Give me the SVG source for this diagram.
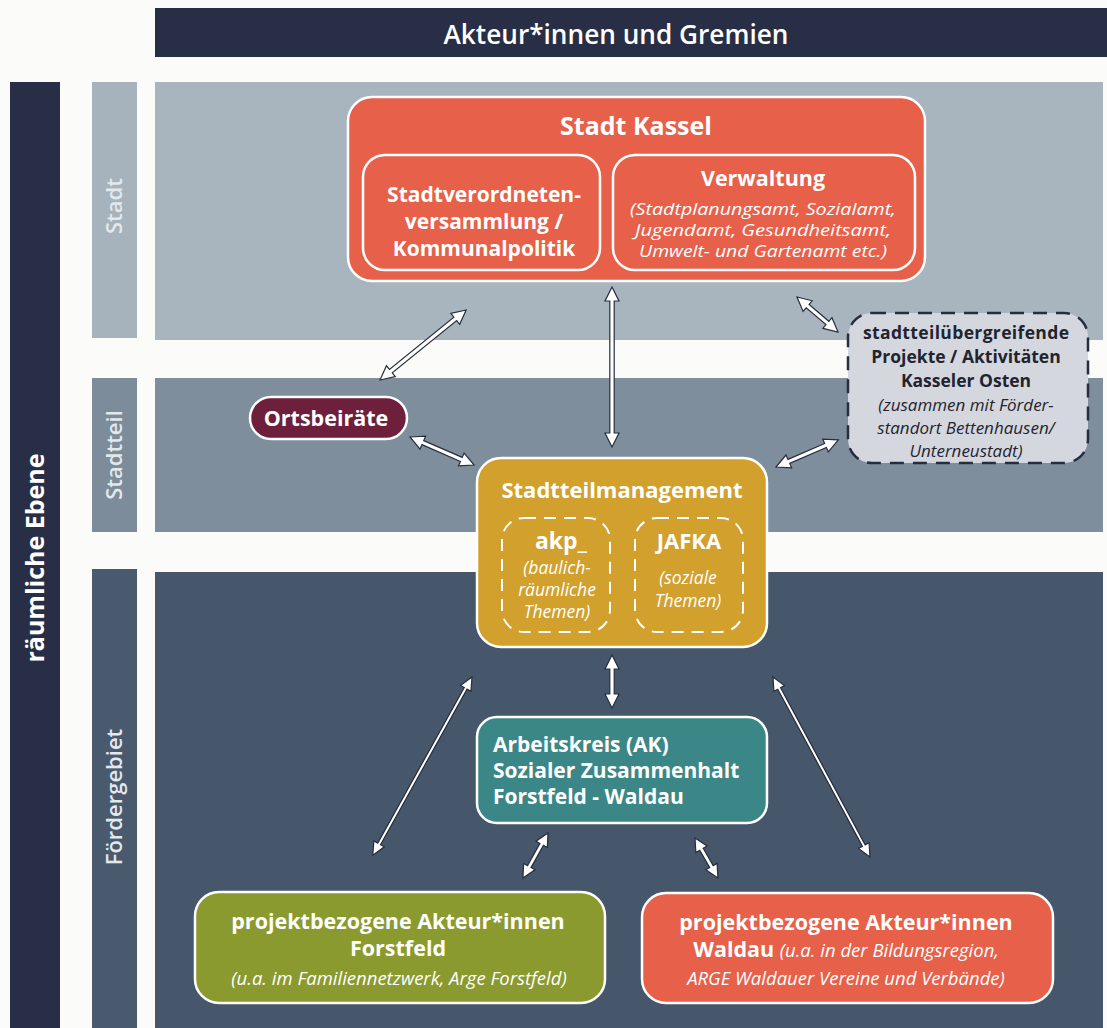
<svg xmlns="http://www.w3.org/2000/svg" width="1107" height="1028" viewBox="0 0 1107 1028">
<style>
.t{font-family:"Open Sans","Liberation Sans",sans-serif;fill:#fff;text-anchor:middle}
.b{font-weight:700}
.i{font-style:italic;font-weight:400}
.lbl{font-family:"Open Sans","Liberation Sans",sans-serif;fill:#e3e8ec;font-weight:600;text-anchor:middle;font-size:22px}
.box{stroke:#fff;stroke-width:2.5}
.arr{fill:#fff;stroke:#262d3e;stroke-width:1.2;stroke-linejoin:miter}
.dash{fill:none;stroke:#fff;stroke-width:2;stroke-dasharray:12 8}
</style>
<rect width="1107" height="1028" fill="#fbfbfa"/>
<g id="bands">
<rect x="155" y="8" width="952" height="49" fill="#272e45"/>
<text class="t" x="616" y="44" font-size="27" font-weight="600" textLength="345" lengthAdjust="spacingAndGlyphs">Akteur*innen und Gremien</text>
<rect x="10" y="82" width="50" height="946" fill="#272e45"/>
<text class="t b" font-size="25" transform="translate(44,558) rotate(-90)">räumliche Ebene</text>
<rect x="92" y="82" width="45" height="256" fill="#a6b3bc"/>
<rect x="155" y="82" width="948" height="258" fill="#a8b5be"/>
<text class="lbl" transform="translate(122,206) rotate(-90)">Stadt</text>
<rect x="92" y="378" width="45" height="154" fill="#7c8c9b"/>
<rect x="155" y="378" width="948" height="154" fill="#7e8e9d"/>
<text class="lbl" transform="translate(122,455) rotate(-90)">Stadtteil</text>
<rect x="92" y="569" width="45" height="459" fill="#4a5a6e"/>
<rect x="155" y="572" width="948" height="456" fill="#46566b"/>
<text class="lbl" transform="translate(122,797) rotate(-90)">Fördergebiet</text>
</g>
<g id="connectors">
<path class="arr" transform="translate(380,380) rotate(-39.1)" d="M0,0 L14,-7 L14,-2.2 L97,-2.2 L97,-7 L111,0 L97,7 L97,2.2 L14,2.2 L14,7 Z"/>
<path class="arr" transform="translate(612,287) rotate(90)" d="M0,0 L14,-7 L14,-2.2 L146,-2.2 L146,-7 L160,0 L146,7 L146,2.2 L14,2.2 L14,7 Z"/>
<path class="arr" transform="translate(797,297) rotate(40.5)" d="M0,0 L14,-7 L14,-2.2 L40,-2.2 L40,-7 L54,0 L40,7 L40,2.2 L14,2.2 L14,7 Z"/>
<path class="arr" transform="translate(410,437) rotate(23.6)" d="M0,0 L14,-7 L14,-2.2 L56,-2.2 L56,-7 L70,0 L56,7 L56,2.2 L14,2.2 L14,7 Z"/>
<path class="arr" transform="translate(776,467) rotate(-23.5)" d="M0,0 L14,-7 L14,-2.2 L54,-2.2 L54,-7 L68,0 L54,7 L54,2.2 L14,2.2 L14,7 Z"/>
<path class="arr" transform="translate(612,655) rotate(90)" d="M0,0 L14,-7 L14,-2.2 L39,-2.2 L39,-7 L53,0 L39,7 L39,2.2 L14,2.2 L14,7 Z"/>
<path class="arr" transform="translate(472,677) rotate(119.1)" d="M0,0 L13,-6 L13,-1.6 L191,-1.6 L191,-6 L204,0 L191,6 L191,1.6 L13,1.6 L13,6 Z"/>
<path class="arr" transform="translate(773,677) rotate(61.7)" d="M0,0 L13,-6 L13,-1.6 L191.5,-1.6 L191.5,-6 L204.5,0 L191.5,6 L191.5,1.6 L13,1.6 L13,6 Z"/>
<path class="arr" transform="translate(548,833) rotate(119.1)" d="M0,0 L13,-6.5 L13,-2 L38.5,-2 L38.5,-6.5 L51.5,0 L38.5,6.5 L38.5,2 L13,2 L13,6.5 Z"/>
<path class="arr" transform="translate(695,838) rotate(60.1)" d="M0,0 L13,-6.5 L13,-2 L33,-2 L33,-6.5 L46,0 L33,6.5 L33,2 L13,2 L13,6.5 Z"/>
</g>
<g id="stadt-kassel">
<rect class="box" x="348" y="97" width="577" height="184" rx="24" fill="#e6604a"/>
<text class="t b" x="636" y="135" font-size="25">Stadt Kassel</text>
</g>
<g id="stadtverordneten">
<rect class="box" x="363" y="155" width="237" height="115" rx="22" fill="#e6604a"/>
<text class="t b" font-size="21"><tspan x="484" y="202">Stadtverordneten-</tspan><tspan x="484" y="229">versammlung /</tspan><tspan x="484" y="256">Kommunalpolitik</tspan></text>
</g>
<g id="verwaltung">
<rect class="box" x="613" y="155" width="302" height="115" rx="22" fill="#e6604a"/>
<text class="t b" x="763" y="186" font-size="21.5">Verwaltung</text>
<text class="t i" font-size="16.5"><tspan x="763" y="215" textLength="266" lengthAdjust="spacingAndGlyphs">(Stadtplanungsamt, Sozialamt,</tspan><tspan x="763" y="236" textLength="256" lengthAdjust="spacingAndGlyphs">Jugendamt, Gesundheitsamt,</tspan><tspan x="763" y="257" textLength="248" lengthAdjust="spacingAndGlyphs">Umwelt- und Gartenamt etc.)</tspan></text>
</g>
<g id="stadtteiluebergreifend">
<rect x="848" y="313" width="240" height="150" rx="24" fill="#d4d7dd" stroke="#262d3e" stroke-width="2.5" stroke-dasharray="14 9"/>
<text class="t b" font-size="17.5" style="fill:#1f2430"><tspan x="966" y="339" textLength="206" lengthAdjust="spacing">stadtteilübergreifende</tspan><tspan x="966" y="363">Projekte / Aktivitäten</tspan><tspan x="966" y="387">Kasseler Osten</tspan></text>
<text class="t i" font-size="17" style="fill:#1f2430"><tspan x="966" y="411">(zusammen mit Förder-</tspan><tspan x="966" y="434">standort Bettenhausen/</tspan><tspan x="966" y="457">Unterneustadt)</tspan></text>
</g>
<g id="ortsbeiraete">
<rect class="box" x="250" y="397" width="157" height="42" rx="21" fill="#6e1f3b"/>
<text class="t b" x="326" y="426" font-size="21.5">Ortsbeiräte</text>
</g>
<g id="stadtteilmanagement">
<rect class="box" x="477" y="458" width="290" height="189" rx="24" fill="#d2a02c"/>
<text class="t b" x="622" y="498" font-size="22">Stadtteilmanagement</text>
<rect class="dash" x="502" y="518" width="108" height="114" rx="22"/>
<text class="t b" x="561" y="549" font-size="23">akp_</text>
<text class="t i" font-size="17.5"><tspan x="557" y="574">(baulich-</tspan><tspan x="557" y="596">räumliche</tspan><tspan x="557" y="618">Themen)</tspan></text>
</g>
<g id="jafka">
<rect class="dash" x="635" y="518" width="108" height="114" rx="22"/>
<text class="t b" x="689" y="549" font-size="22">JAFKA</text>
<text class="t i" font-size="17.5"><tspan x="688" y="584">(soziale</tspan><tspan x="688" y="607">Themen)</tspan></text>
</g>
<g id="arbeitskreis">
<rect class="box" x="477" y="717" width="290" height="106" rx="20" fill="#3b8787"/>
<text class="t b" font-size="21" style="text-anchor:start"><tspan x="493" y="752">Arbeitskreis (AK)</tspan><tspan x="493" y="778">Sozialer Zusammenhalt</tspan><tspan x="493" y="804">Forstfeld - Waldau</tspan></text>
</g>
<g id="forstfeld">
<rect class="box" x="195" y="892" width="410" height="111" rx="24" fill="#8a9a2e"/>
<text class="t b" font-size="21.5"><tspan x="398" y="929">projektbezogene Akteur*innen</tspan><tspan x="398" y="956">Forstfeld</tspan></text>
<text class="t i" x="399" y="985" font-size="18.5">(u.a. im Familiennetzwerk, Arge Forstfeld)</text>
</g>
<g id="waldau">
<rect class="box" x="642" y="893" width="411" height="110" rx="24" fill="#e6604a"/>
<text class="t b" x="846" y="930" font-size="21.5">projektbezogene Akteur*innen</text>
<text class="t" x="846" y="957"><tspan class="b" font-size="21.5">Waldau </tspan><tspan class="i" font-size="18.5">(u.a. in der Bildungsregion,</tspan></text>
<text class="t i" x="846" y="985" font-size="18.5">ARGE Waldauer Vereine und Verbände)</text>
</g>
</svg>
